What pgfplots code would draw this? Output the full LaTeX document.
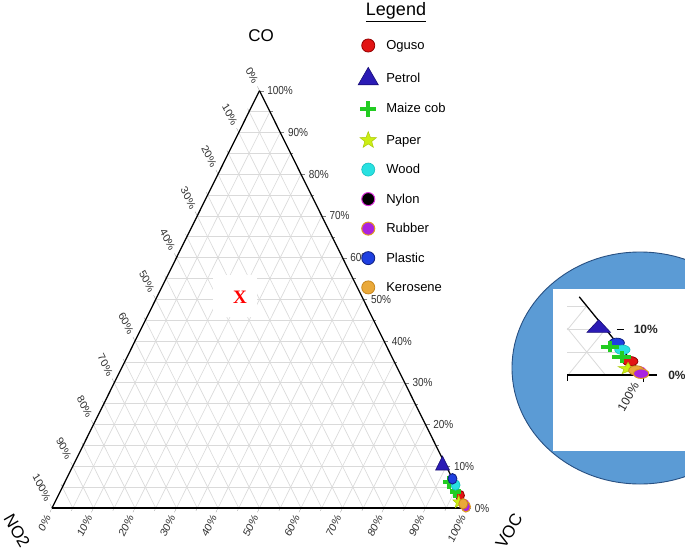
\documentclass[border=0pt]{standalone}
\usepackage{pgfplots}
\pgfplotsset{compat=1.18}
\usepackage{pgfplotstable}
\usepgfplotslibrary{ternary}
\usetikzlibrary{plotmarks}
\usepackage{fontspec}
\setmainfont{Liberation Sans}
\newfontfamily\serifx{Liberation Serif}

\definecolor{gridc}{RGB}{218,218,218}
\definecolor{ogusoF}{RGB}{226,20,20}\definecolor{ogusoD}{RGB}{150,0,0}
\definecolor{petrolF}{RGB}{43,27,181}\definecolor{petrolD}{RGB}{25,15,120}
\definecolor{maizeC}{RGB}{34,204,34}
\definecolor{paperF}{RGB}{204,238,20}\definecolor{paperD}{RGB}{170,200,10}
\definecolor{woodF}{RGB}{40,225,225}\definecolor{woodD}{RGB}{20,190,190}
\definecolor{nylonD}{RGB}{220,50,220}
\definecolor{rubberF}{RGB}{170,34,224}\definecolor{rubberD}{RGB}{224,154,32}
\definecolor{plasticF}{RGB}{30,63,224}\definecolor{plasticD}{RGB}{16,32,128}
\definecolor{keroF}{RGB}{234,169,58}\definecolor{keroD}{RGB}{200,136,32}
\definecolor{ellF}{RGB}{91,155,213}\definecolor{ellD}{RGB}{40,80,130}

\pgfdeclareplotmark{fstar}{%
  \pgfpathmoveto{\pgfpointpolar{90}{\pgfplotmarksize}}%
  \pgfpathlineto{\pgfpointpolar{126}{0.42\pgfplotmarksize}}%
  \pgfpathlineto{\pgfpointpolar{162}{\pgfplotmarksize}}%
  \pgfpathlineto{\pgfpointpolar{198}{0.42\pgfplotmarksize}}%
  \pgfpathlineto{\pgfpointpolar{234}{\pgfplotmarksize}}%
  \pgfpathlineto{\pgfpointpolar{270}{0.42\pgfplotmarksize}}%
  \pgfpathlineto{\pgfpointpolar{306}{\pgfplotmarksize}}%
  \pgfpathlineto{\pgfpointpolar{342}{0.42\pgfplotmarksize}}%
  \pgfpathlineto{\pgfpointpolar{18}{\pgfplotmarksize}}%
  \pgfpathlineto{\pgfpointpolar{54}{0.42\pgfplotmarksize}}%
  \pgfpathclose
  \pgfusepathqfillstroke
}

\pgfplotsset{
  s oguso/.style={only marks, mark=*, mark size=4.5pt, mark options={fill=ogusoF, draw=ogusoD, line width=0.8pt}},
  s petrol/.style={only marks, mark=triangle*, mark size=8pt, mark options={fill=petrolF, draw=petrolD, line width=0.6pt}},
  s maize/.style={only marks, mark=+, mark size=5.5pt, mark options={draw=maizeC, line width=4pt}},
  s paper/.style={only marks, mark=fstar, mark size=6pt, mark options={fill=paperF, draw=paperD, line width=0.5pt}},
  s wood/.style={only marks, mark=*, mark size=4.5pt, mark options={fill=woodF, draw=woodD, line width=0.6pt}},
  s nylon/.style={only marks, mark=*, mark size=4.5pt, mark options={fill=black, draw=nylonD, line width=1pt}},
  s rubber/.style={only marks, mark=*, mark size=4.5pt, mark options={fill=rubberF, draw=rubberD, line width=1pt}},
  s plastic/.style={only marks, mark=*, mark size=4.5pt, mark options={fill=plasticF, draw=plasticD, line width=0.8pt}},
  s kero/.style={only marks, mark=*, mark size=4.5pt, mark options={fill=keroF, draw=keroD, line width=0.8pt}},
}

% columns: VOC CO NO2 (percent)
\pgfplotstableread{
VOC CO NO2
96.8 3.0 0.2
}\toguso
\pgfplotstableread{
VOC CO NO2
89.0 10.2 0.8
}\tpetrol
\pgfplotstableread{
VOC CO NO2
92.5 6.2 1.3
95.2 3.9 0.9
}\tmaize
\pgfplotstableread{
VOC CO NO2
97.3 1.4 1.3
}\tpaper
\pgfplotstableread{
VOC CO NO2
94.5 5.5 0.0
}\twood
\pgfplotstableread{
VOC CO NO2
99.0 0.8 0.2
}\tnylon
\pgfplotstableread{
VOC CO NO2
99.6 0.3 0.1
}\trubber
\pgfplotstableread{
VOC CO NO2
93.0 7.0 0.0
}\tplastic
\pgfplotstableread{
VOC CO NO2
98.6 1.0 0.4
}\tkero

\begin{document}
\begin{tikzpicture}[x=1pt,y=1pt]
\path[use as bounding box, clip] (0,0) rectangle (685,558);
\fill[white] (0,0) rectangle (685,558);
% x = CO (top corner), y = NO2 (bottom-left corner), z = VOC (bottom-right corner)
\begin{scope}[yscale=1.1611, every mark/.append style={yscale=0.8612}]
\begin{ternaryaxis}[
  at={(52pt,43.062pt)}, anchor=south west,
  width=415pt, height=418pt, scale only axis,
  xmin=0,xmax=100,ymin=0,ymax=100,zmin=0,zmax=100,
  xtick={0,10,...,100}, ytick={0,10,...,100}, ztick={0,10,...,100},
  minor tick num=1,
  grid=both,
  major grid style={gridc, line width=0.6pt},
  minor grid style={gridc, line width=0.6pt},
  axis line style={black, line width=1.2pt},
  xticklabel={\pgfmathprintnumber[assume math mode=true]{\tick}\%},
  yticklabel={\pgfmathprintnumber[assume math mode=true]{\tick}\%},
  zticklabel={\pgfmathprintnumber[assume math mode=true]{\tick}\%},
  ticklabel style={font=\fontsize{10}{11}\selectfont, text=black!80},
  xticklabel style={anchor=west},
  yticklabel style={rotate=-60, anchor=east},
  zticklabel style={rotate=60, anchor=east},
]
\addplot3[s oguso] table[x=CO,y=NO2,z=VOC] {\toguso};
\addplot3[s petrol] table[x=CO,y=NO2,z=VOC] {\tpetrol};
\addplot3[s maize] table[x=CO,y=NO2,z=VOC] {\tmaize};
\addplot3[s paper] table[x=CO,y=NO2,z=VOC] {\tpaper};
\addplot3[s wood] table[x=CO,y=NO2,z=VOC] {\twood};
\addplot3[s nylon] table[x=CO,y=NO2,z=VOC] {\tnylon};
\addplot3[s rubber] table[x=CO,y=NO2,z=VOC] {\trubber};
\addplot3[s plastic] table[x=CO,y=NO2,z=VOC] {\tplastic};
\addplot3[s kero] table[x=CO,y=NO2,z=VOC] {\tkero};
\end{ternaryaxis}
\end{scope}
% legend (separate, unscaled)
\begin{axis}[
  at={(355pt,522pt)}, anchor=south west,
  width=1pt, height=1pt, scale only axis, hide axis,
  xmin=0, xmax=1, ymin=0, ymax=1,
  legend style={at={(axis description cs:0,0)}, anchor=north west, draw=none, fill=none,
     font=\fontsize{13}{15}\selectfont, row sep=14.6pt, legend cell align=left,
     /tikz/every odd column/.append style={column sep=6pt}},
  legend image post style={every mark/.append style={scale=1.45}},
]
\addlegendimage{s oguso}\addlegendentry{Oguso}
\addlegendimage{s petrol}\addlegendentry{Petrol}
\addlegendimage{s maize}\addlegendentry{Maize cob}
\addlegendimage{s paper}\addlegendentry{Paper}
\addlegendimage{s wood}\addlegendentry{Wood}
\addlegendimage{s nylon}\addlegendentry{Nylon}
\addlegendimage{s rubber}\addlegendentry{Rubber}
\addlegendimage{s plastic}\addlegendentry{Plastic}
\addlegendimage{s kero}\addlegendentry{Kerosene}
\end{axis}
\node[font=\fontsize{18}{20}\selectfont] at (396,546) {\underline{Legend}};
\node[font=\fontsize{17}{19}\selectfont] at (261,522) {CO};
\node[font=\fontsize{17}{19}\selectfont, rotate=-60] at (17,27) {NO2};
\node[font=\fontsize{17}{19}\selectfont, rotate=60] at (509,27) {VOC};
\node[fill=white, minimum width=44pt, minimum height=42pt] at (235,262) {};
\node[text=red, font=\serifx\bfseries\fontsize{19}{19}\selectfont] at (240,261) {X};
% inset
\fill[ellF, draw=ellD, line width=0.9pt] (640,190) ellipse [x radius=128, y radius=116];
\fill[white] (553,107) rectangle (700,269);
\begin{axis}[
  at={(553pt,107pt)}, anchor=south west,
  width=132pt, height=162pt, scale only axis, hide axis,
  xmin=88, xmax=105.6, ymin=-16.5, ymax=18.7,
  clip=false,
]
\addplot[gridc, line width=0.8pt] coordinates {(89.9,5) (97.5,5)};
\addplot[gridc, line width=0.8pt] coordinates {(89.9,10) (95,10)};
\addplot[gridc, line width=0.8pt] coordinates {(89.9,15) (92.5,15)};
\addplot[gridc, line width=0.8pt] coordinates {(90,0) (95,10)};
\addplot[gridc, line width=0.8pt] coordinates {(89.9,9.8) (92.5,15)};
\addplot[gridc, line width=0.8pt] coordinates {(95,0) (89.9,10.2)};
\addplot[black, line width=1.3pt] coordinates {(91.5,17) (100,0)};
\addplot[black, line width=1.3pt] coordinates {(89.9,0) (101.9,0)};
\addplot[black, line width=0.8pt] coordinates {(96.5,10) (97.4,10)};
\addplot[black, line width=0.8pt] coordinates {(100,0) (100,-1.5)};
\addplot[black, line width=0.8pt] coordinates {(89.9,0) (89.9,-1.3)};
\begin{scope}[every mark/.append style={xscale=1.7, yscale=1.05}]
\addplot[s plastic] table[x expr=\thisrow{VOC}+0.5*\thisrow{CO}, y=CO] {\tplastic};
\addplot[s wood] table[x expr=\thisrow{VOC}+0.5*\thisrow{CO}, y=CO] {\twood};
\addplot[s oguso] table[x expr=\thisrow{VOC}+0.5*\thisrow{CO}, y=CO] {\toguso};
\addplot[s maize] table[x expr=\thisrow{VOC}+0.5*\thisrow{CO}, y=CO] {\tmaize};
\addplot[s petrol] table[x expr=\thisrow{VOC}+0.5*\thisrow{CO}, y=CO] {\tpetrol};
\addplot[s nylon] table[x expr=\thisrow{VOC}+0.5*\thisrow{CO}, y=CO] {\tnylon};
\addplot[s paper] table[x expr=\thisrow{VOC}+0.5*\thisrow{CO}, y=CO] {\tpaper};
\addplot[s kero] table[x expr=\thisrow{VOC}+0.5*\thisrow{CO}, y=CO] {\tkero};
\addplot[s rubber] table[x expr=\thisrow{VOC}+0.5*\thisrow{CO}, y=CO] {\trubber};
\end{scope}
\node[anchor=west, font=\bfseries\fontsize{12}{13}\selectfont, text=black!85] at (axis cs:98.3,10) {10\%};
\node[anchor=west, font=\bfseries\fontsize{12}{13}\selectfont, text=black!85] at (axis cs:102.9,0) {0\%};
\node[anchor=east, rotate=60, font=\fontsize{12}{13}\selectfont, text=black!85] at (axis cs:99.3,-1.2) {100\%};
\end{axis}
\end{tikzpicture}
\end{document}
